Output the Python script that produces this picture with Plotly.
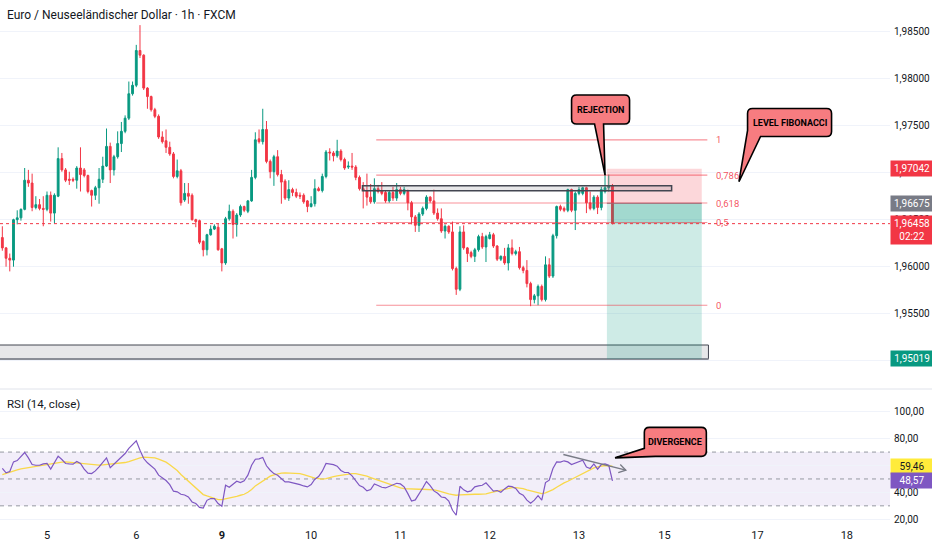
import math
import plotly.graph_objects as go

# ---------------- data ----------------
bar_index = list(range(-12, 153))   # hourly bars, 0 = 5th 00:00

open_ = [1.9631,1.9620,1.9609,1.9607,1.9650,1.9652,1.9661,1.9692,1.9689,1.9663,1.9666,1.9662,
 1.9661,1.9676,1.9657,1.9675,1.9715,1.9703,1.9693,1.9693,1.9692,1.9705,
 1.9703,1.9697,1.9681,1.9676,1.9684,1.9693,1.9707,1.9728,1.9703,1.9717,
 1.9731,1.9744,1.9758,1.9784,1.9793,1.9830,1.9825,1.9790,1.9781,1.9767,
 1.9760,1.9738,1.9734,1.9727,1.9720,1.9696,1.9702,1.9671,1.9678,1.9676,
 1.9650,1.9649,1.9627,1.9618,1.9634,1.9640,1.9642,1.9619,1.9604,1.9651,
 1.9659,1.9645,1.9655,1.9664,1.9659,1.9670,1.9695,1.9736,1.9733,1.9746,
 1.9712,1.9701,1.9717,1.9698,1.9691,1.9673,1.9682,1.9679,1.9676,1.9676,
 1.9670,1.9664,1.9667,1.9683,1.9681,1.9696,1.9722,1.9721,1.9718,1.9723,
 1.9714,1.9706,1.9707,1.9706,1.9695,1.9683,1.9681,1.9674,1.9669,1.9683,
 1.9681,1.9679,1.9670,1.9679,1.9673,1.9682,1.9678,1.9680,1.9668,1.9653,
 1.9644,1.9656,1.9662,1.9674,1.9670,1.9657,1.9651,1.9638,1.9643,1.9637,
 1.9598,1.9576,1.9637,1.9620,1.9615,1.9611,1.9618,1.9632,1.9621,1.9630,
 1.9634,1.9622,1.9608,1.9611,1.9604,1.9620,1.9614,1.9616,1.9599,1.9596,
 1.9582,1.9565,1.9569,1.9579,1.9565,1.9602,1.9590,1.9633,1.9664,1.9662,
 1.9660,1.9682,1.9660,1.9678,1.9678,1.9684,1.9668,1.9662,1.9674,1.9663,
 1.9680,1.9684,1.9686]

high = [1.9643,1.9621,1.9614,1.9651,1.9660,1.9662,1.9705,1.9703,1.9699,1.9675,1.9672,1.9675,
 1.9680,1.9680,1.9678,1.9727,1.9721,1.9705,1.9701,1.9695,1.9707,1.9727,
 1.9705,1.9698,1.9682,1.9686,1.9705,1.9717,1.9747,1.9732,1.9719,1.9744,
 1.9754,1.9761,1.9797,1.9797,1.9836,1.9857,1.9826,1.9791,1.9782,1.9769,
 1.9762,1.9744,1.9746,1.9733,1.9722,1.9714,1.9704,1.9689,1.9689,1.9678,
 1.9651,1.9650,1.9628,1.9635,1.9644,1.9645,1.9646,1.9620,1.9653,1.9666,
 1.9661,1.9657,1.9666,1.9665,1.9671,1.9703,1.9743,1.9746,1.9768,1.9755,
 1.9714,1.9719,1.9724,1.9703,1.9693,1.9692,1.9684,1.9683,1.9679,1.9678,
 1.9671,1.9675,1.9693,1.9685,1.9699,1.9724,1.9726,1.9723,1.9735,1.9725,
 1.9716,1.9712,1.9721,1.9708,1.9697,1.9690,1.9699,1.9688,1.9694,1.9687,
 1.9690,1.9681,1.9681,1.9685,1.9689,1.9685,1.9685,1.9682,1.9670,1.9655,
 1.9658,1.9664,1.9676,1.9675,1.9682,1.9662,1.9662,1.9645,1.9644,1.9648,
 1.9600,1.9643,1.9644,1.9621,1.9617,1.9620,1.9634,1.9636,1.9634,1.9637,
 1.9636,1.9623,1.9612,1.9620,1.9624,1.9629,1.9618,1.9621,1.9601,1.9607,
 1.9584,1.9571,1.9581,1.9581,1.9611,1.9609,1.9635,1.9665,1.9666,1.9664,
 1.9683,1.9683,1.9680,1.9685,1.9685,1.9685,1.9680,1.9676,1.9676,1.9685,
 1.9699,1.9698,1.9688]

low = [1.9617,1.9600,1.9595,1.9600,1.9645,1.9649,1.9660,1.9685,1.9659,1.9661,1.9660,1.9643,
 1.9659,1.9648,1.9646,1.9674,1.9701,1.9690,1.9687,1.9690,1.9683,1.9680,
 1.9695,1.9678,1.9664,1.9671,1.9667,1.9689,1.9706,1.9689,1.9697,1.9715,
 1.9722,1.9742,1.9756,1.9782,1.9791,1.9822,1.9788,1.9768,1.9765,1.9758,
 1.9736,1.9731,1.9721,1.9718,1.9694,1.9694,1.9665,1.9669,1.9667,1.9649,
 1.9642,1.9624,1.9611,1.9612,1.9633,1.9639,1.9617,1.9595,1.9602,1.9649,
 1.9630,1.9632,1.9653,1.9658,1.9657,1.9669,1.9693,1.9731,1.9730,1.9710,
 1.9694,1.9686,1.9696,1.9667,1.9671,1.9670,1.9675,1.9673,1.9672,1.9667,
 1.9658,1.9663,1.9664,1.9680,1.9679,1.9694,1.9713,1.9712,1.9716,1.9712,
 1.9703,1.9704,1.9703,1.9692,1.9681,1.9662,1.9665,1.9667,1.9667,1.9678,
 1.9676,1.9668,1.9668,1.9670,1.9670,1.9676,1.9676,1.9660,1.9645,1.9637,
 1.9637,1.9654,1.9660,1.9668,1.9655,1.9649,1.9636,1.9630,1.9635,1.9596,
 1.9570,1.9574,1.9618,1.9605,1.9609,1.9605,1.9616,1.9619,1.9605,1.9629,
 1.9620,1.9606,1.9606,1.9602,1.9596,1.9612,1.9612,1.9597,1.9593,1.9578,
 1.9558,1.9561,1.9559,1.9563,1.9563,1.9588,1.9588,1.9630,1.9659,1.9658,
 1.9658,1.9658,1.9639,1.9676,1.9676,1.9657,1.9660,1.9660,1.9656,1.9660,
 1.9678,1.9680,1.9645]

close = [1.9620,1.9609,1.9607,1.9650,1.9652,1.9661,1.9692,1.9689,1.9663,1.9666,1.9662,1.9661,
 1.9676,1.9657,1.9676,1.9715,1.9703,1.9692,1.9692,1.9692,1.9705,1.9698,
 1.9697,1.9680,1.9676,1.9684,1.9693,1.9707,1.9728,1.9703,1.9717,1.9731,
 1.9744,1.9758,1.9784,1.9793,1.9830,1.9825,1.9790,1.9781,1.9767,1.9760,
 1.9738,1.9733,1.9727,1.9720,1.9696,1.9702,1.9668,1.9678,1.9675,1.9650,
 1.9648,1.9626,1.9618,1.9634,1.9640,1.9643,1.9618,1.9604,1.9651,1.9659,
 1.9645,1.9655,1.9664,1.9660,1.9670,1.9695,1.9735,1.9733,1.9746,1.9712,
 1.9701,1.9717,1.9698,1.9690,1.9673,1.9682,1.9679,1.9675,1.9675,1.9669,
 1.9664,1.9667,1.9683,1.9681,1.9696,1.9722,1.9721,1.9718,1.9723,1.9714,
 1.9705,1.9707,1.9706,1.9695,1.9683,1.9681,1.9674,1.9669,1.9683,1.9680,
 1.9678,1.9670,1.9679,1.9673,1.9682,1.9678,1.9682,1.9668,1.9653,1.9644,
 1.9656,1.9662,1.9674,1.9670,1.9657,1.9651,1.9638,1.9643,1.9637,1.9598,
 1.9576,1.9637,1.9620,1.9614,1.9611,1.9618,1.9632,1.9621,1.9632,1.9634,
 1.9622,1.9608,1.9611,1.9604,1.9620,1.9614,1.9616,1.9599,1.9596,1.9582,
 1.9565,1.9569,1.9579,1.9565,1.9602,1.9590,1.9633,1.9664,1.9661,1.9660,
 1.9682,1.9660,1.9678,1.9682,1.9684,1.9668,1.9662,1.9674,1.9663,1.9682,
 1.9684,1.9686,1.96458]

rsi = [57.8,54.5,55.5,62.7,63.7,66.7,69.7,65.7,60.7,60.2,60.2,61.2,
 61.5,57.3,62.7,67.0,64.5,61.5,61.2,61.0,63.0,61.5,
 57.3,54.3,54.0,56.0,59.0,62.7,65.7,58.3,61.0,63.7,
 65.9,68.9,72.7,75.7,78.4,71.4,65.2,62.0,59.8,57.3,
 52.8,50.8,48.8,45.8,40.9,40.4,38.6,38.1,36.6,32.9,
 31.7,28.9,28.4,34.1,35.4,35.4,31.7,29.7,45.3,43.8,
 46.3,48.3,47.3,48.6,52.8,60.2,64.7,65.0,66.0,59.8,
 56.5,54.0,52.8,50.3,47.8,47.8,47.3,46.6,45.8,44.8,
 44.1,45.8,49.8,51.8,
 55.8,61.5,61.2,60.7,59.5,56.3,54.8,54.8,52.3,48.3,
 45.1,43.8,41.1,42.1,46.3,45.1,43.8,43.3,44.3,45.6,
 46.8,46.3,44.1,39.1,33.6,34.4,39.4,43.3,48.1,45.1,
 41.1,39.4,36.6,36.1,33.6,26.7,23.0,44.6,41.9,40.4,
 41.1,44.1,44.8,45.3,47.1,44.3,40.9,41.4,40.1,42.6,
 44.6,44.3,42.9,39.4,37.9,34.2,31.9,34.2,37.6,34.2,
 47.3,49.1,57.8,62.7,62.5,63.5,62.7,60.7,62.0,63.0,
 64.0,58.8,57.8,61.2,57.3,60.7,61.2,60.2,48.57]

rsi_ma = [53.29,54.28,55.28,56.02,56.77,57.52,58.01,58.51,59.01,59.50,59.75,60.25,
 60.75,61.24,61.49,61.99,62.49,62.74,62.49,61.99,61.49,61.24,
 61.00,60.75,60.50,60.25,60.25,60.50,60.75,60.75,61.00,61.24,
 61.74,62.24,62.98,63.98,65.22,65.72,66.22,66.22,66.22,65.72,
 64.72,63.73,62.49,60.50,58.51,56.27,53.29,50.80,48.07,45.83,
 42.85,40.61,38.38,37.38,36.39,35.14,34.65,34.65,35.14,35.64,
 36.14,37.13,37.88,38.62,40.12,42.10,44.84,46.58,48.32,50.06,
 52.05,53.04,53.79,54.28,54.53,54.53,54.53,54.53,54.04,53.29,
 52.30,51.30,50.56,50.31,
 49.81,50.31,51.30,51.80,52.30,52.79,53.29,53.79,54.04,54.04,
 53.54,53.04,52.05,51.05,50.06,48.82,47.82,46.83,45.83,45.09,
 44.09,43.35,42.85,42.60,42.35,42.35,42.35,42.35,42.35,42.35,
 41.86,41.36,40.36,39.62,38.87,38.38,37.88,38.13,38.38,38.62,
 38.62,38.62,38.62,38.62,38.87,39.62,40.36,41.11,41.86,42.60,
 43.10,43.60,43.60,43.35,42.85,41.86,41.11,40.12,39.37,39.12,
 39.62,40.61,42.10,43.84,45.58,47.08,48.32,49.81,51.05,52.30,
 54.04,55.53,57.27,58.26,59.01,59.75,60.00,59.75,59.46]

day_ticks = [0, 24, 47, 71, 95, 119, 143, 166, 191, 215]
day_labels = ["5", "6", "<b>9</b>", "10", "11", "12", "13", "15", "17", "18"]

price_ticks = [1.950, 1.955, 1.960, 1.965, 1.970, 1.975, 1.980, 1.985]
rsi_ticks = [20, 40, 60, 80, 100]
rsi_bands = [30, 50, 70]

# drawings
fib_high, fib_low = 1.9735, 1.9559
fib_levels = [1, 0.786, 0.618, 0.5, 0]
fib_labels = ["1", "0,786", "0,618", "0,5", "0"]
fib_span = [88.5, 177.5]

zone_prices = [1.96809, 1.96862]
zone_span = [84.8, 167.9]
base_prices = [1.95019, 1.95167]
base_span = [-20, 177.8]

entry_price, stop_price, target_price, last_price = 1.96675, 1.97042, 1.95019, 1.96458
pos_span = [150.5, 176.0]
last_bar = 152
countdown = "02:22"
rsi_last, ma_last = 48.57, 59.46

div_line = [(138.8, 68.2), (155.6, 56.5)]

# ---------------- layout geometry ----------------
W, H = 932, 550
ML, MR, MT, MB = 0, 42, 0, 23
PW, PH = W - ML - MR, H - MT - MB
x_range = [-12.63, 226.6]
main_range = [1.947096, 1.988372]
rsi_range = [14.26, 116.18]
main_dom = [(PH - 388) / PH, 1.0]
rsi_dom = [0.0, (PH - 390) / PH]

def px_x(i):
    return (i - x_range[0]) / (x_range[1] - x_range[0]) * PW

def _py(v, rng, dom):
    f = dom[0] + (v - rng[0]) / (rng[1] - rng[0]) * (dom[1] - dom[0])
    return (1 - f) * PH

def px_price(p):
    return _py(p, main_range, main_dom)

def px_rsi(r):
    return _py(r, rsi_range, rsi_dom)

def P(x, y):
    return f"{x / PW:.5f},{1 - y / PH:.5f}"

SANS = "Roboto, Liberation Sans, Arial, sans-serif"
BOLD = "Roboto, Liberation Sans, Arial, sans-serif"
TXT = "#131722"
RED, GREEN = "#F23645", "#089981"

fig = go.Figure()

fig.add_trace(go.Candlestick(
    x=bar_index, open=open_, high=high, low=low, close=close,
    increasing=dict(line=dict(color=GREEN, width=1), fillcolor=GREEN),
    decreasing=dict(line=dict(color=RED, width=1), fillcolor=RED),
    whiskerwidth=0, xaxis="x", yaxis="y", showlegend=False, hoverinfo="skip"))

fig.add_trace(go.Scatter(x=bar_index, y=rsi_ma, mode="lines",
                         line=dict(color="#F9D84A", width=1.3),
                         xaxis="x", yaxis="y2", showlegend=False, hoverinfo="skip"))
fig.add_trace(go.Scatter(x=bar_index, y=rsi, mode="lines",
                         line=dict(color="#7E57C2", width=1.2),
                         xaxis="x", yaxis="y2", showlegend=False, hoverinfo="skip"))

shapes = []
# RSI band
shapes.append(dict(type="rect", xref="paper", yref="y2", x0=0, x1=1, y0=rsi_bands[0], y1=rsi_bands[-1],
                   fillcolor="rgba(126,87,194,0.10)", line=dict(width=0), layer="between"))
for b in rsi_bands:
    shapes.append(dict(type="line", xref="paper", yref="y2", x0=0, x1=1, y0=b, y1=b,
                       line=dict(color="#9598A1", width=1, dash="4px,4px"), layer="between"))
# pane separator
sep_y = 389
shapes.append(dict(type="line", xref="paper", yref="paper", x0=0, x1=W / PW,
                   y0=1 - sep_y / PH, y1=1 - sep_y / PH, line=dict(color="#E0E3EB", width=1)))
# base rectangle (bottom)
shapes.append(dict(type="rect", xref="x", yref="y", x0=base_span[0], x1=base_span[1],
                   y0=base_prices[0], y1=base_prices[1],
                   fillcolor="rgba(120,123,134,0.18)", line=dict(color="#434651", width=1)))
shapes.append(dict(type="line", xref="x", yref="y", x0=base_span[0], x1=base_span[1],
                   y0=base_prices[0], y1=base_prices[0], line=dict(color="#8A8D96", width=2)))
# position tool
shapes.append(dict(type="rect", xref="x", yref="y", x0=pos_span[0], x1=pos_span[1],
                   y0=entry_price, y1=stop_price, fillcolor="rgba(242,54,69,0.20)", line=dict(width=0)))
shapes.append(dict(type="rect", xref="x", yref="y", x0=pos_span[0], x1=pos_span[1],
                   y0=target_price, y1=entry_price, fillcolor="rgba(8,153,129,0.20)", line=dict(width=0)))
shapes.append(dict(type="rect", xref="x", yref="y", x0=last_bar, x1=pos_span[1],
                   y0=last_price, y1=entry_price, fillcolor="rgba(8,153,129,0.22)", line=dict(width=0)))
shapes.append(dict(type="line", xref="x", yref="y", x0=pos_span[0], x1=pos_span[1],
                   y0=entry_price, y1=entry_price, line=dict(color="#787B86", width=1)))
# fib
for lv in fib_levels:
    v = fib_low + lv * (fib_high - fib_low)
    shapes.append(dict(type="line", xref="x", yref="y", x0=fib_span[0], x1=fib_span[1], y0=v, y1=v,
                       line=dict(color="rgba(242,54,69,0.55)", width=1.2)))
# resistance zone
shapes.append(dict(type="rect", xref="x", yref="y", x0=zone_span[0], x1=zone_span[1],
                   y0=zone_prices[0], y1=zone_prices[1],
                   fillcolor="rgba(120,123,134,0.18)", line=dict(color="#434651", width=1.5)))
# current price line
shapes.append(dict(type="line", xref="paper", yref="y", x0=0, x1=1, y0=last_price, y1=last_price,
                   line=dict(color=RED, width=1, dash="dot")))

# divergence line + chevron
(dx0, dr0), (dx1, dr1) = div_line
sx, sy = px_x(dx0), px_rsi(dr0)
ex, ey = px_x(dx1), px_rsi(dr1)
shapes.append(dict(type="path", xref="paper", yref="paper",
                   path=f"M{P(sx, sy)} L{P(ex, ey)}", line=dict(color="#787B86", width=1.3)))
ang = math.atan2(ey - sy, ex - sx)
arm = 8
a1 = (ex - arm * math.cos(ang - 0.55), ey - arm * math.sin(ang - 0.55))
a2 = (ex - arm * math.cos(ang + 0.55), ey - arm * math.sin(ang + 0.55))
shapes.append(dict(type="path", xref="paper", yref="paper",
                   path=f"M{P(*a1)} L{P(ex, ey)} L{P(*a2)}", line=dict(color="#787B86", width=1.3)))

# callouts (rounded box + tail)
def callout(cx, cy, w, h, tip, tail, rad=5):
    L, R, T, B = cx - w / 2, cx + w / 2, cy - h / 2, cy + h / 2
    tx, ty = tip
    d = [f"M{P(L + rad, T)}", f"L{P(R - rad, T)}", f"Q{P(R, T)} {P(R, T + rad)}",
         f"L{P(R, B - rad)}", f"Q{P(R, B)} {P(R - rad, B)}"]
    if tail[0] == "bottom":
        xa, xb = tail[1], tail[2]
        d += [f"L{P(L + xa, B)}", f"L{P(tx, ty)}", f"L{P(L + xb, B)}",
              f"L{P(L + rad, B)}", f"Q{P(L, B)} {P(L, B - rad)}"]
    else:  # corner: from bottom edge to left edge
        xa, ya = tail[1], tail[2]
        d += [f"L{P(L + xa, B)}", f"L{P(tx, ty)}", f"L{P(L, B - ya)}"]
    d += [f"L{P(L, T + rad)}", f"Q{P(L, T)} {P(L + rad, T)}", "Z"]
    return dict(type="path", xref="paper", yref="paper", path=" ".join(d),
                fillcolor="#F77C80", line=dict(color="#000000", width=1.6))

callouts = [
    ("REJECTION", px_x(148.8), px_price(1.97672), 58, 29,
     (px_x(150), px_price(fib_low + 0.786 * (fib_high - fib_low))), ("bottom", 32, 23)),
    ("LEVEL FIBONACCI", px_x(199.6), px_price(1.97534), 84, 28,
     (px_x(186), px_price(1.96904)), ("corner", 13, 6)),
    ("DIVERGENCE", px_x(168.9), px_rsi(77.6), 62, 29,
     (px_x(152.7), px_rsi(65.7)), ("corner", 11, 8)),
]
annotations = []
for text, cx, cy, w, h, tip, tail in callouts:
    shapes.append(callout(cx, cy, w, h, tip, tail))
    annotations.append(dict(xref="paper", yref="paper", x=cx / PW, y=1 - cy / PH, text=f"<b>{text}</b>",
                            showarrow=False, font=dict(family=BOLD, size=9, color="#000000"),
                            xanchor="center", yanchor="middle"))

# fib labels
for lv, lab in zip(fib_levels, fib_labels):
    v = fib_low + lv * (fib_high - fib_low)
    annotations.append(dict(xref="x", yref="y", x=fib_span[1], y=v, text=lab, showarrow=False,
                            xanchor="left", yanchor="middle", xshift=7,
                            font=dict(family=SANS, size=9.5, color="rgba(242,54,69,0.85)")))

# titles
annotations.append(dict(xref="paper", yref="paper", x=0, y=1 - 15 / PH, xshift=5,
                        text="Euro / Neuseeländischer Dollar · 1h · FXCM", showarrow=False,
                        xanchor="left", yanchor="middle", font=dict(family=SANS, size=12, color=TXT)))
annotations.append(dict(xref="paper", yref="paper", x=0, y=1 - 404 / PH, xshift=5,
                        text="RSI (14, close)", showarrow=False,
                        xanchor="left", yanchor="middle", font=dict(family=SANS, size=11.5, color=TXT)))

def fmt(v, n):
    return f"{v:.{n}f}".replace(".", ",")

def axis_label(yref, v, text, bg, fg, yanchor="middle", yshift=0):
    annotations.append(dict(xref="paper", yref=yref, x=1, y=v, xanchor="left", yanchor=yanchor,
                            xshift=0, yshift=yshift, text=text, showarrow=False, bgcolor=bg,
                            width=38, align="center", borderpad=2,
                            font=dict(family=SANS, size=10, color=fg)))

axis_label("y", stop_price, fmt(stop_price, 5), RED, "#FFFFFF")
axis_label("y", entry_price, fmt(entry_price, 5), "#787B86", "#FFFFFF")
axis_label("y", last_price, fmt(last_price, 5) + "<br>" + countdown, RED, "#FFFFFF", "top", 9)
axis_label("y", target_price, fmt(target_price, 5), GREEN, "#FFFFFF")
axis_label("y2", ma_last, fmt(ma_last, 2), "#FFEB3B", TXT)
axis_label("y2", rsi_last, fmt(rsi_last, 2), "#7E57C2", "#FFFFFF")

fig.update_layout(
    width=W, height=H, margin=dict(l=ML, r=MR, t=MT, b=MB),
    paper_bgcolor="#FFFFFF", plot_bgcolor="#FFFFFF",
    separators=",.", showlegend=False, hovermode=False,
    shapes=shapes, annotations=annotations,
    xaxis=dict(range=x_range, anchor="y2", tickvals=day_ticks, ticktext=day_labels,
               showgrid=False, zeroline=False, showline=False, ticks="",
               tickfont=dict(family=SANS, size=11, color=TXT),
               rangeslider=dict(visible=False), fixedrange=True),
    yaxis=dict(domain=main_dom, range=main_range, side="right", anchor="x",
               tickvals=price_ticks, tickformat=".5f", showgrid=True, gridcolor="#F0F3FA",
               zeroline=False, showline=False, ticks="", ticklabelstandoff=3,
               tickfont=dict(family=SANS, size=10, color=TXT)),
    yaxis2=dict(domain=rsi_dom, range=rsi_range, side="right", anchor="x",
                tickvals=rsi_ticks, tickformat=".2f", showgrid=True, gridcolor="#F0F3FA",
                zeroline=False, showline=False, ticks="", ticklabelstandoff=3,
                tickfont=dict(family=SANS, size=10, color=TXT)),
)

fig.write_html("out.html", config={"displayModeBar": False},
               post_script="document.body.style.margin='0';")
